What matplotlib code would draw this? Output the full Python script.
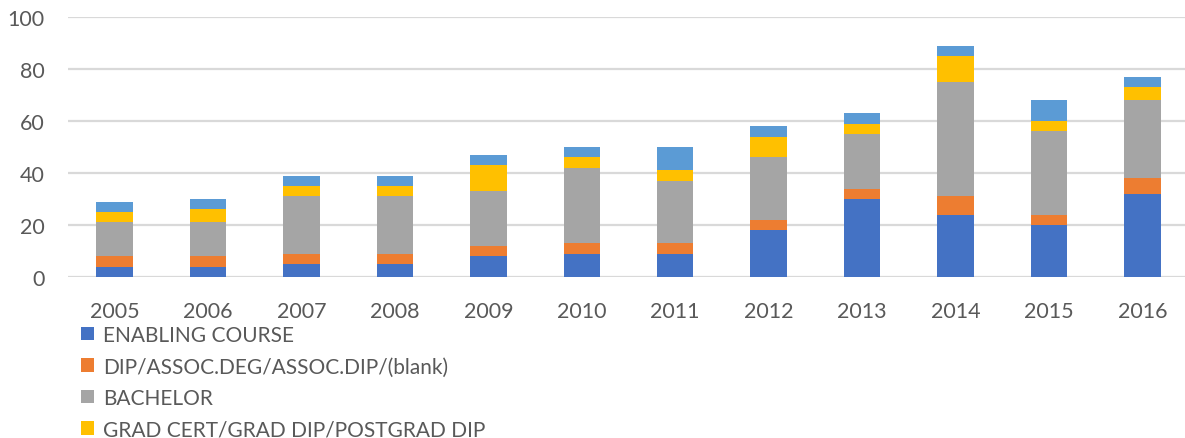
import numpy as np
import matplotlib
matplotlib.use("Agg")
import matplotlib.pyplot as plt

years = ["2005", "2006", "2007", "2008", "2009", "2010",
         "2011", "2012", "2013", "2014", "2015", "2016"]
enabling = [4, 4, 5, 5, 8, 9, 9, 18, 30, 24, 20, 32]
dip = [4, 4, 4, 4, 4, 4, 4, 4, 4, 7, 4, 6]
bachelor = [13, 13, 22, 22, 21, 29, 24, 24, 21, 44, 32, 30]
grad = [4, 5, 4, 4, 10, 4, 4, 8, 4, 10, 4, 5]
higher = [4, 4, 4, 4, 4, 4, 9, 4, 4, 4, 8, 4]

labels = ["ENABLING COURSE", "DIP/ASSOC.DEG/ASSOC.DIP/(blank)", "BACHELOR",
          "GRAD CERT/GRAD DIP/POSTGRAD DIP", "HIGHER DEGREE"]
colors = ["#4472C4", "#ED7D31", "#A5A5A5", "#FFC000", "#5B9BD5"]
series = [enabling, dip, bachelor, grad, higher]

plt.rcParams['font.family'] = ['Lato', 'DejaVu Sans']
text_col = "#595959"

W, H = 1185, 439
fig = plt.figure(figsize=(W / 100, H / 100), dpi=100)
ax = fig.add_axes([68 / W, (H - 278) / H, (1189 - 68) / W, 260 / H])

x = np.arange(len(years))
bottom = np.zeros(len(years))
bars = []
for vals, lab, col in zip(series, labels, colors):
    b = ax.bar(x, vals, width=0.39, bottom=bottom, color=col, label=lab, zorder=3)
    bars.append(b)
    bottom += np.array(vals)

ax.set_xlim(-0.5, len(years) - 0.5)
ax.set_ylim(0, 100)
ax.set_yticks(range(0, 101, 20))
ax.set_xticks(x)
ax.set_xticklabels(years)
ax.yaxis.grid(True, color="#D9D9D9", linewidth=1.6, zorder=0)
for s in ax.spines.values():
    s.set_visible(False)
ax.tick_params(axis="both", length=0, labelsize=15.5, colors=text_col)
ax.tick_params(axis="y", pad=17)
ax.tick_params(axis="x", pad=17)

# only the first four entries fit; the fifth is cut off in the original
fig.legend(bars[:4], labels[:4], loc="upper left",
           bbox_to_anchor=(81 / W, 1 - 326 / H), frameon=False,
           fontsize=15, labelcolor=text_col, handlelength=0.62,
           handleheight=0.62, handletextpad=0.45, labelspacing=0.55,
           borderpad=0, borderaxespad=0)

fig.savefig("out.png", dpi=100)
